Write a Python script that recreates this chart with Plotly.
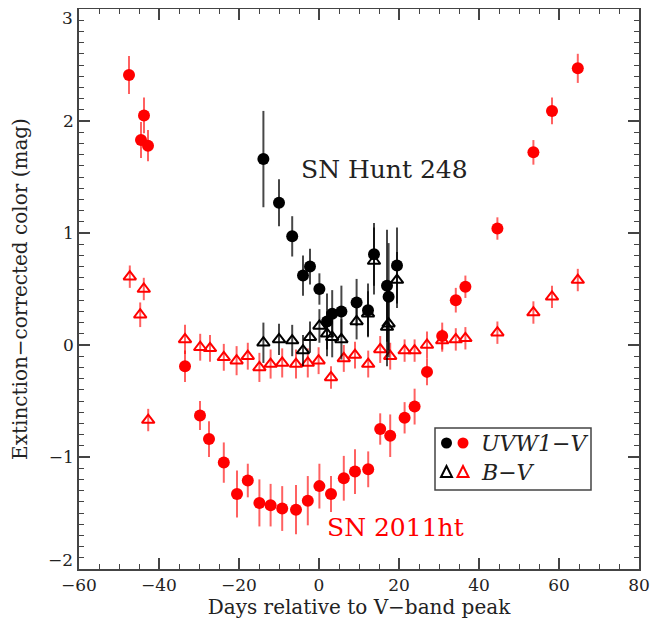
import plotly.graph_objects as go

# SN 2011ht  UVW1-V (red circles)
ht_uv_days = [-47.5, -44.5, -43.75, -42.75, -33.5, -29.75, -27.5, -23.8, -20.5, -17.8,
              -14.9, -12.1, -9.2, -5.75, -2.8, 0.1, 3.0, 6.2, 9.0, 12.3,
              15.3, 17.8, 21.4, 23.9, 27.0, 30.8, 34.2, 36.6, 44.6, 53.6, 58.25, 64.7]
ht_uv_col = [2.41, 1.83, 2.05, 1.78, -0.19, -0.63, -0.84, -1.05, -1.33, -1.21,
             -1.41, -1.43, -1.46, -1.47, -1.39, -1.26, -1.33, -1.19, -1.13, -1.11,
             -0.75, -0.81, -0.65, -0.55, -0.24, 0.08, 0.40, 0.52, 1.04, 1.72, 2.09, 2.47]
ht_uv_err = [0.17, 0.16, 0.16, 0.14, 0.14, 0.13, 0.16, 0.18, 0.21, 0.15,
             0.21, 0.19, 0.20, 0.22, 0.22, 0.20, 0.16, 0.20, 0.20, 0.16,
             0.14, 0.19, 0.14, 0.16, 0.12, 0.12, 0.11, 0.10, 0.10, 0.11, 0.12, 0.13]

# SN 2011ht  B-V (red open triangles)
ht_bv_days = [-47.3, -44.7, -43.8, -42.7, -33.5, -29.7, -27.25, -23.8, -20.6, -17.8,
              -14.9, -12.1, -9.2, -5.75, -2.8, -0.1, 3.0, 6.2, 9.0, 12.3,
              15.3, 17.8, 21.4, 23.9, 27.0, 30.8, 34.2, 36.6, 44.6, 53.6, 58.25, 64.7]
ht_bv_col = [0.61, 0.27, 0.50, -0.67, 0.05, -0.02, -0.03, -0.11, -0.14, -0.10,
             -0.20, -0.17, -0.16, -0.17, -0.16, -0.14, -0.29, -0.12, -0.09, -0.17,
             -0.04, -0.10, -0.05, -0.05, 0.00, 0.04, 0.05, 0.06, 0.11, 0.29, 0.43, 0.58]
ht_bv_err = [0.10, 0.11, 0.10, 0.10, 0.13, 0.12, 0.12, 0.12, 0.13, 0.12,
             0.13, 0.13, 0.13, 0.13, 0.13, 0.12, 0.10, 0.12, 0.12, 0.12,
             0.12, 0.12, 0.10, 0.10, 0.12, 0.10, 0.10, 0.10, 0.10, 0.10, 0.10, 0.10]

# SN Hunt 248  UVW1-V (black circles)
h248_uv_days = [-13.9, -10.0, -6.7, -4.0, -2.25, 0.1, 2.0, 3.3, 5.6, 9.4,
                12.25, 13.75, 17.0, 17.4, 19.5]
h248_uv_col = [1.66, 1.27, 0.97, 0.62, 0.70, 0.50, 0.21, 0.28, 0.30, 0.38,
               0.31, 0.81, 0.53, 0.43, 0.71]
h248_uv_err = [0.43, 0.21, 0.18, 0.18, 0.16, 0.14, 0.25, 0.21, 0.23, 0.21,
               0.24, 0.28, 0.50, 0.48, 0.34]

# SN Hunt 248  B-V (black open triangles)
h248_bv_days = [-13.9, -10.0, -6.7, -4.0, -2.25, 0.1, 2.0, 3.3, 5.6, 9.4,
                12.25, 13.75, 17.0, 17.4, 19.5]
h248_bv_col = [0.02, 0.05, 0.04, -0.05, 0.07, 0.17, 0.10, 0.07, 0.05, 0.21,
               0.28, 0.75, 0.16, 0.19, 0.58]
h248_bv_err = [0.18, 0.14, 0.14, 0.14, 0.14, 0.15, 0.20, 0.18, 0.18, 0.16,
               0.20, 0.30, 0.35, 0.30, 0.25]

y_tick_vals = [-1, 0, 1, 2]
y_end_ticks = [3, -2]

RED = "#ff0000"
RED_BAR = "rgba(255,0,0,0.62)"
BLK = "#000000"
BLK_BAR = "rgba(0,0,0,0.72)"
AX = "#444444"
TXT = "#222222"
FONT = "DejaVu Serif"

# page offset of plotly div (default body margin) -> plot frame at 79..639, 9..569 on screen
W, H = 667, 627
OFF = 8
L, T, R, B = 79 - OFF, 9 - OFF, W - (639 - OFF), H - (569 - OFF)
PW, PH = W - L - R, H - T - B


def px(xs):
    return (xs - 79) / PW


def py(ys):
    return (569 - ys) / PH


fig = go.Figure()

fig.add_trace(go.Scatter(
    x=ht_bv_days, y=ht_bv_col, mode="markers",
    marker=dict(symbol="triangle-up-open", size=11, color=RED, line=dict(width=2, color=RED)),
    error_y=dict(type="data", array=ht_bv_err, color=RED_BAR, thickness=2, width=0),
    showlegend=False))
fig.add_trace(go.Scatter(
    x=ht_uv_days, y=ht_uv_col, mode="markers",
    marker=dict(symbol="circle", size=12, color=RED),
    error_y=dict(type="data", array=ht_uv_err, color=RED_BAR, thickness=2, width=0),
    showlegend=False))
fig.add_trace(go.Scatter(
    x=h248_bv_days, y=h248_bv_col, mode="markers",
    marker=dict(symbol="triangle-up-open", size=11, color=BLK, line=dict(width=2, color=BLK)),
    error_y=dict(type="data", array=h248_bv_err, color=BLK_BAR, thickness=2, width=0),
    showlegend=False))
fig.add_trace(go.Scatter(
    x=h248_uv_days, y=h248_uv_col, mode="markers",
    marker=dict(symbol="circle", size=12, color=BLK),
    error_y=dict(type="data", array=h248_uv_err, color=BLK_BAR, thickness=2, width=0),
    showlegend=False))

axis_common = dict(
    showline=True, linecolor=AX, linewidth=1.5, mirror="allticks",
    ticks="inside", tickcolor=AX, tickwidth=1.5, ticklen=11,
    showgrid=False, zeroline=False, automargin=False,
    tickfont=dict(family=FONT, size=17, color=TXT),
)

fig.update_xaxes(
    range=[-60, 80], tick0=-60, dtick=20,
    minor=dict(dtick=5, ticks="inside", ticklen=5, tickcolor=AX, tickwidth=1.2),
    title=dict(text="Days relative to V\u2212band peak", font=dict(family=FONT, size=20, color=TXT), standoff=6),
    **axis_common)
fig.update_yaxes(
    range=[-2, 3], tickmode="array", tickvals=y_tick_vals,
    minor=dict(dtick=0.1, tick0=0, ticks="inside", ticklen=5, tickcolor=AX, tickwidth=1.2),
    title=dict(text="Extinction\u2212corrected color (mag)", font=dict(family=FONT, size=20, color=TXT), standoff=16),
    **axis_common)

# end tick labels (top aligned / bottom aligned like the original)
fig.add_annotation(x=0, y=y_end_ticks[0], xref="paper", yref="y", text=str(y_end_ticks[0]),
                   xanchor="right", yanchor="top", xshift=-4, yshift=3, showarrow=False,
                   font=dict(family=FONT, size=17, color=TXT))
fig.add_annotation(x=0, y=y_end_ticks[1], xref="paper", yref="y", text="\u2212" + str(abs(y_end_ticks[1])),
                   xanchor="right", yanchor="bottom", xshift=-4, yshift=-3, showarrow=False,
                   font=dict(family=FONT, size=17, color=TXT))

fig.add_annotation(x=px(384), y=py(169), xref="paper", yref="paper", text="SN Hunt 248",
                   xanchor="center", yanchor="middle",
                   showarrow=False, font=dict(family=FONT, size=25, color=TXT))
fig.add_annotation(x=px(395.5), y=py(527.5), xref="paper", yref="paper", text="SN 2011ht",
                   xanchor="center", yanchor="middle",
                   showarrow=False, font=dict(family=FONT, size=25, color=RED))

# legend box
fig.add_shape(type="rect", xref="paper", yref="paper",
              x0=px(435), x1=px(591), y0=py(490), y1=py(428),
              line=dict(color=AX, width=1.5), fillcolor="white")
for cx, col in ((446.5, BLK), (463, RED)):
    fig.add_shape(type="circle", xref="paper", yref="paper",
                  x0=px(cx - 5.5), x1=px(cx + 5.5), y0=py(443 + 5.5), y1=py(443 - 5.5),
                  line=dict(color=col, width=0), fillcolor=col)
    fig.add_shape(type="path", xref="paper", yref="paper",
                  path=f"M {px(cx - 5.5)} {py(477)} L {px(cx + 5.5)} {py(477)} L {px(cx)} {py(466)} Z",
                  line=dict(color=col, width=2), fillcolor="rgba(0,0,0,0)")
fig.add_annotation(x=px(479), y=py(443), xref="paper", yref="paper", xanchor="left", yanchor="middle",
                   text="<i>UVW1\u2212V</i>", showarrow=False,
                   font=dict(family=FONT, size=22, color=TXT))
fig.add_annotation(x=px(479), y=py(472), xref="paper", yref="paper", xanchor="left", yanchor="middle",
                   text="<i>B\u2212V</i>", showarrow=False,
                   font=dict(family=FONT, size=22, color=TXT))

fig.update_layout(
    width=W, height=H,
    margin=dict(l=L, r=R, t=T, b=B),
    plot_bgcolor="white", paper_bgcolor="white",
)

fig.write_html("out.html")
